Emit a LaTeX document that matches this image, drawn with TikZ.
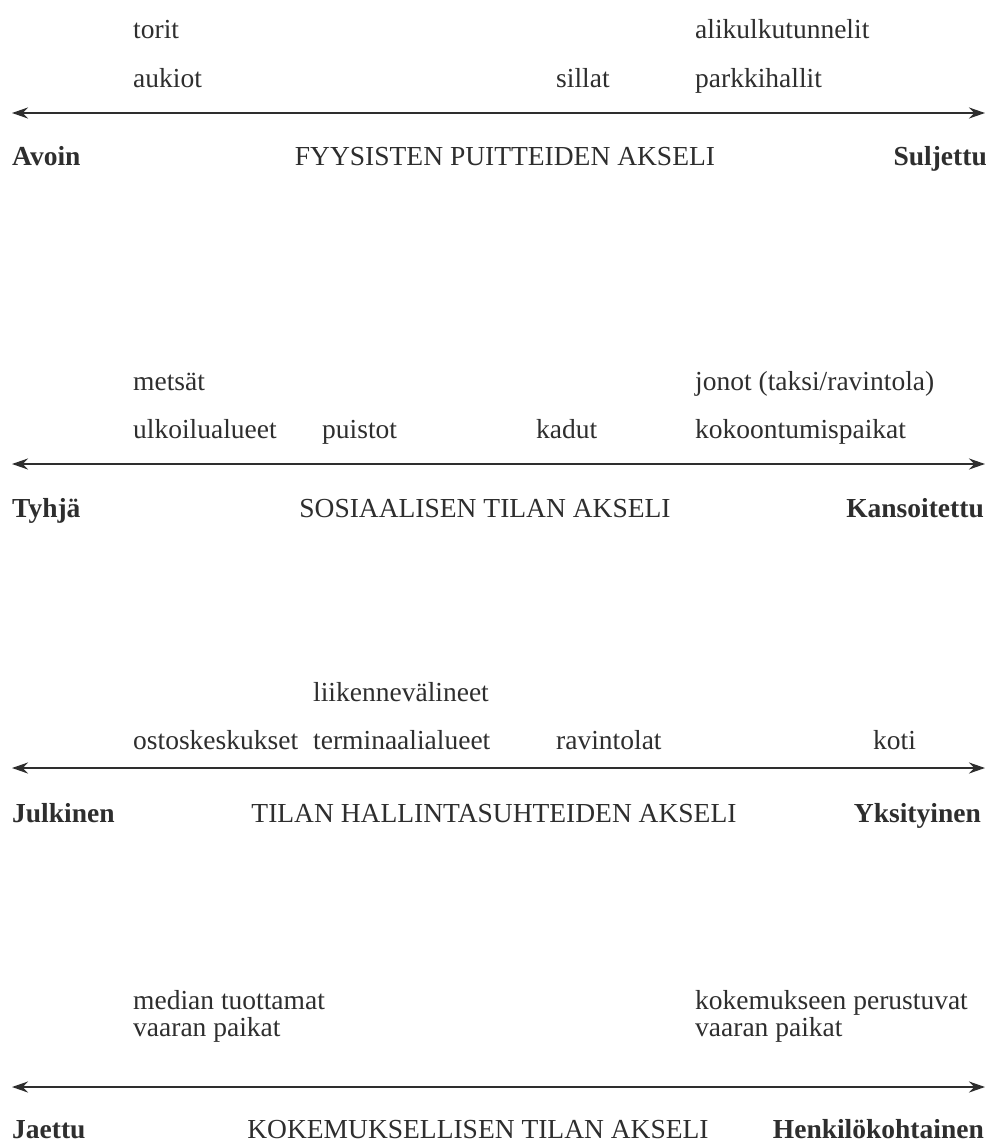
\documentclass[tikz,border=0pt]{standalone}
\usepackage{fontspec}
\setmainfont{Liberation Serif}
\usetikzlibrary{arrows.meta}
\definecolor{ink}{HTML}{2E2E2E}
\tikzset{
  lbl/.style={anchor=base west, inner sep=0pt, text=ink, font=\fontsize{27.5}{33}\selectfont},
  endl/.style={anchor=base west, inner sep=0pt, text=ink, font=\fontsize{27.5}{33}\selectfont\bfseries},
  endr/.style={anchor=base east, inner sep=0pt, text=ink, font=\fontsize{27.5}{33}\selectfont\bfseries},
  axtitle/.style={anchor=base, inner sep=0pt, text=ink, font=\fontsize{27.5}{33}\selectfont},
  axisline/.style={draw=ink, line width=2pt, {Stealth[length=16pt,width=11pt]}-{Stealth[length=16pt,width=11pt]}}
}
\begin{document}
\begin{tikzpicture}[x=1pt,y=-1pt]
\useasboundingbox[fill=white] (0,0) rectangle (985,1142);
% Panel 1
\node[lbl] (torit) at (133,39) {torit};
\node[lbl] (alik) at (695,39) {alikulkutunnelit};
\node[lbl] (aukiot) at (133,88) {aukiot};
\node[lbl] (sillat) at (556,88) {sillat};
\node[lbl] (parkki) at (695,88) {parkkihallit};
\coordinate (a1l) at (12,113);
\coordinate (a1r) at (985,113);
\draw[axisline] (a1l) -- (a1r);
\node[endl] (avoin) at (12,166) {Avoin};
\node[axtitle] (t1) at (505,166) {FYYSISTEN PUITTEIDEN AKSELI};
\node[endr] (sulj) at (987,166) {Suljettu};
% Panel 2
\node[lbl] (metsat) at (133,390) {metsät};
\node[lbl] (jonot) at (695,390) {jonot (taksi/ravintola)};
\node[lbl] (ulko) at (133,438) {ulkoilualueet};
\node[lbl] (puistot) at (322,438) {puistot};
\node[lbl] (kadut) at (536,438) {kadut};
\node[lbl] (kokoon) at (695,438) {kokoontumispaikat};
\coordinate (a2l) at (12,464);
\coordinate (a2r) at (985,464);
\draw[axisline] (a2l) -- (a2r);
\node[endl] (tyhja) at (12,517) {Tyhjä};
\node[axtitle] (t2) at (485,517) {SOSIAALISEN TILAN AKSELI};
\node[endr] (kans) at (984,517) {Kansoitettu};
% Panel 3
\node[lbl] (liik) at (313,701) {liikennevälineet};
\node[lbl] (osto) at (133,749) {ostoskeskukset};
\node[lbl] (term) at (313,749) {terminaalialueet};
\node[lbl] (ravin) at (556,749) {ravintolat};
\node[lbl] (koti) at (873,749) {koti};
\coordinate (a3l) at (12,768);
\coordinate (a3r) at (985,768);
\draw[axisline] (a3l) -- (a3r);
\node[endl] (julk) at (12,822) {Julkinen};
\node[axtitle] (t3) at (494,822) {TILAN HALLINTASUHTEIDEN AKSELI};
\node[endr] (yks) at (981,822) {Yksityinen};
% Panel 4
\node[lbl] (med) at (133,1009) {median tuottamat};
\node[lbl] (vaar1) at (133,1036) {vaaran paikat};
\node[lbl] (koke) at (695,1009) {kokemukseen perustuvat};
\node[lbl] (vaar2) at (695,1036) {vaaran paikat};
\coordinate (a4l) at (12,1087);
\coordinate (a4r) at (985,1087);
\draw[axisline] (a4l) -- (a4r);
\node[endl] (jaettu) at (12,1138) {Jaettu};
\node[axtitle] (t4) at (478,1138) {KOKEMUKSELLISEN TILAN AKSELI};
\node[endr] (henk) at (984,1138) {Henkilökohtainen};
\end{tikzpicture}
\end{document}
